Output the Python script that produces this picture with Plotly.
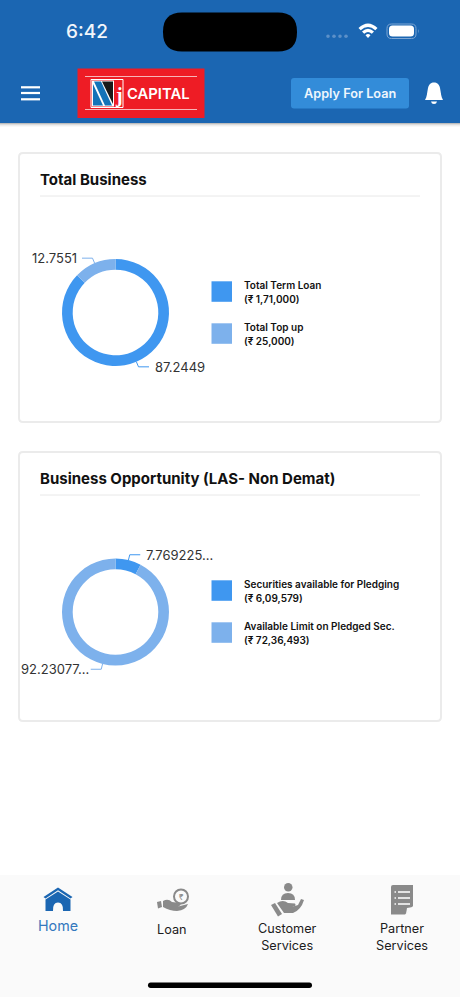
import numpy as np
import plotly.graph_objects as go

# --- chart data ---
total_names = ['Total Term Loan', 'Total Top up']
total_amounts = [171000, 25000]
total_amount_text = ['(₹ 1,71,000)', '(₹ 25,000)']
total_labels = ['87.2449', '12.7551']

opp_names = ['Securities available for Pledging', 'Available Limit on Pledged Sec.']
opp_amounts = [609579, 7236493]
opp_amount_text = ['(₹ 6,09,579)', '(₹ 72,36,493)']
opp_labels = ['7.769225...', '92.23077...']

nav_items = ['Home', 'Loan', 'Customer<br>Services', 'Partner<br>Services']

W, H = 460, 997
BLUE = '#3F97F0'
LIGHT = '#7DB1EC'
HEADER = '#1B66B2'
TITLE_FONT = 'Inter'
TEXT_FONT = 'Inter'

shapes = []
notes = []


def rect(x0, y0, x1, y1, fill, line=None, lw=0):
    shapes.append(dict(type='rect', xref='x', yref='y', x0=x0, y0=y0, x1=x1, y1=y1, fillcolor=fill,
                       line=dict(color=line or fill, width=lw), layer='below'))


def path(d, fill=None, line=None, lw=0):
    shapes.append(dict(type='path', xref='x', yref='y', path=d, fillcolor=fill or 'rgba(0,0,0,0)',
                       line=dict(color=line or 'rgba(0,0,0,0)', width=lw), layer='below'))


def circle(x0, y0, x1, y1, fill='rgba(0,0,0,0)', line=None, lw=0):
    shapes.append(dict(type='circle', xref='x', yref='y', x0=x0, x1=x1, y0=y0, y1=y1, fillcolor=fill,
                       line=dict(color=line or 'rgba(0,0,0,0)', width=lw), layer='below'))


def rrect(x0, y0, x1, y1, r):
    return (f'M{x0+r},{y0} L{x1-r},{y0} Q{x1},{y0} {x1},{y0+r} L{x1},{y1-r} Q{x1},{y1} {x1-r},{y1} '
            f'L{x0+r},{y1} Q{x0},{y1} {x0},{y1-r} L{x0},{y0+r} Q{x0},{y0} {x0+r},{y0} Z')


def text(x, y, s, size, color='#1c1c1c', anchor='left', font=TEXT_FONT, weight=400):
    notes.append(dict(xref='x', yref='y', x=x, y=y, text=s, showarrow=False, xanchor=anchor, yanchor='middle',
                      borderpad=0, borderwidth=0,
                      font=dict(family=font, size=size, color=color, weight=weight)))


def leaders(cx, cy, amounts, labels, left_gap=5):
    # elbow lines come from the slice mid angles
    fracs = np.array(amounts) / sum(amounts)
    start = 0
    for i, (frac, label) in enumerate(zip(fracs, labels)):
        mid = 2 * np.pi * (start + frac / 2)
        start += frac
        x0, y0 = cx + 53.5 * np.sin(mid), cy - 53.5 * np.cos(mid)
        x1, y1 = cx + 59 * np.sin(mid), cy - 59 * np.cos(mid)
        side = 1 if np.sin(mid) > 0 else -1
        x2 = x1 + side * 10.5
        color = BLUE if i == 0 else LIGHT
        path(f'M{x0},{y0} L{x1},{y1} L{x2},{y1}', line=color, lw=1)
        gap = 5.5 if side > 0 else left_gap
        text(x2 + side * gap, y1, label, 13, color='#333333',
             anchor='left' if side > 0 else 'right')


# --- header ---
rect(0, 0, W, 123, HEADER)
for i, c in enumerate(['#bdbdbd', '#dcdcdc', '#eeeeee', '#f8f8f8']):
    rect(0, 123 + i, W, 124 + i, c)
path(rrect(163, 12.5, 297, 51.5, 19), fill='#000000')
text(87, 31.5, '6:42', 19, color='#f2f6fb', anchor='center', weight=500)
for dx in [328, 334, 340, 346]:
    circle(dx - 1.8, 34.5, dx + 1.8, 38.1, fill='#5c90c8')
path('M358.5,28 Q368,19 377.5,28 L375.3,30.3 Q368,23.5 360.7,30.3 Z', fill='white')
path('M362,31.6 Q368,26 374,31.6 L371.8,33.8 Q368,30.4 364.2,33.8 Z', fill='white')
path('M365.5,35.2 Q368,33 370.5,35.2 L368,38 Z', fill='white')
path(rrect(387, 24, 416, 38.5, 4.5), line='#7da6d4', lw=1)
path(rrect(389, 25.5, 414, 36.5, 3.5), fill='white')
path('M418,29 Q419.5,31 418,33.5 Z', fill='#7da6d4')

for y in [87.3, 93, 99.3]:
    path(f'M21,{y} L40,{y}', line='white', lw=2.2)

# logo
rect(77.5, 68.5, 204.5, 118, '#EE1C25')
for y in [76.5, 109.5]:
    path(f'M85,{y} L197,{y}', line='#f7b5b8', lw=1)
rect(91, 79.5, 123, 107.5, '#EE1C25', line='white', lw=1)
rect(92, 80.5, 114, 106.5, 'white')
path('M93,84 L103,105.5 L93,105.5 Z', fill='#1473b8')
path('M94,81.5 L101,81.5 L112,105.5 L105,105.5 Z', fill='#1473b8')
path('M102,81.5 L113,81.5 L113,104 Z', fill='#1a1a1a')
text(118.5, 95, 'j', 20, color='white', anchor='center', font='Liberation Serif', weight=700)
text(127.3, 93.5, 'CAPITAL', 14.8, color='white', weight=600)

path(rrect(291, 78, 409, 108.5, 3), fill='#338CD9')
text(350, 93, 'Apply For Loan', 12.7, color='#eef6fd', anchor='center', weight=600)
path('M434,82.5 C437,82.5 439,84 440,88 C441,93 441,97 443,100 L425,100 '
     'C427,97 427,93 428,88 C429,84 431,82.5 434,82.5 Z', fill='white')
path('M431,101.5 L437,101.5 Q436.5,104 434,104 Q431.5,104 431,101.5 Z', fill='white')

# --- cards ---
for top, bottom, title, names, amt_text, amounts, labels in [
        (153, 422, 'Total Business', total_names, total_amount_text, total_amounts, total_labels),
        (452, 721, 'Business Opportunity (LAS- Non Demat)', opp_names, opp_amount_text, opp_amounts, opp_labels)]:
    path(rrect(19, top, 441, bottom, 4), fill='white', line='#EBEBEB', lw=2)
    text(40, top + 26, title, 15, color='#111111', font=TITLE_FONT, weight=700)
    path(f'M40,{top + 43} L420,{top + 43}', line='#E8E8E8', lw=1)
    for i, colour in enumerate([BLUE, LIGHT]):
        y = top + 128.3 + 42 * i
        rect(211.5, y, 232, y + 20.5, colour)
        text(244.3, y + 3.6, names[i], 10, color='#111111', weight=600)
        text(244.3, y + 17.6, amt_text[i], 10, color='#111111', weight=600)

leaders(115.5, 312.5, total_amounts, total_labels)
leaders(115.5, 612, opp_amounts, opp_labels, left_gap=2)

# --- bottom nav ---
rect(0, 875, W, H, '#FAFAFA')
path('M43.5,897 L58,887.5 L72.5,897 L70.5,898.5 L58,890.3 L45.5,898.5 Z', fill='#1B66B2')
path('M45.5,899.5 L58,891.5 L70.5,899.5 L70.5,911 L63,911 Q63.5,902.5 58,902.5 Q52.5,902.5 53,911 '
     'L45.5,911 Z', fill='#1B66B2')
# loan
G = '#8a8a8a'
circle(174, 889.5, 188, 903.5, line=G, lw=2)
text(181, 896.5, '₹', 8, color=G, anchor='center')
path('M157,902 L161,901 L162,907 L158,908.5 Z', fill=G)
path('M163,901 Q168,898 172,902 L180,903 Q182,905 178,906.5 L188,904 Q186,910 177,911 Q170,911 163,907 Z', fill=G)
# customer services
circle(284, 883, 292.5, 891.5, fill=G)
path('M281,900 Q281,893 288,893 Q295,893 295,900 Z', fill=G)
path('M271,905 L275,903 L282,914 L278,916.5 Z', fill=G)
path('M277,903 Q283,899 288,903 L295,903.5 Q297,906 292,907 L298,905 L301,899 L304,900 '
     'Q301,910 293,913 L284,913 Z', fill=G)
# partner services
path('M393,885 L413,885 L413,906 L405,914.5 L391,914.5 L391,887 Q391,885 393,885 Z', fill=G)
path('M406,914 L413,907 L407,908 Z', fill='#FAFAFA')
for y in [892, 898, 904]:
    path(f'M398,{y} L410,{y}', line='#FAFAFA', lw=1.6)
    path(f'M394.5,{y} L396,{y}', line='#FAFAFA', lw=1.6)

text(57.5, 925, nav_items[0], 14.3, color='#3478BE', anchor='center')
text(172.3, 929, nav_items[1], 12.7, anchor='center')
text(287, 936.5, nav_items[2], 12.7, anchor='center')
text(402, 936.5, nav_items[3], 12.7, anchor='center')
path(rrect(148, 982.5, 312, 988, 2.7), fill='#000000')


def donut(values, names, top_px):
    half = 53.5
    return go.Pie(values=values, labels=names, hole=0.8, sort=False, direction='clockwise', rotation=0,
                  textinfo='none', hoverinfo='skip', showlegend=False,
                  marker=dict(colors=[BLUE, LIGHT], line=dict(width=0)),
                  domain=dict(x=[(115.5 - half) / W, (115.5 + half) / W],
                              y=[1 - (top_px + half) / H, 1 - (top_px - half) / H]))


fig = go.Figure()
# invisible anchor so the pixel axes exist for the overlay shapes
fig.add_trace(go.Scatter(x=[0, W], y=[0, H], mode='markers', marker=dict(opacity=0), hoverinfo='skip',
                         showlegend=False))
fig.add_trace(donut(total_amounts, total_names, 312.5))
fig.add_trace(donut(opp_amounts, opp_names, 612))
fig.update_layout(width=W, height=H, margin=dict(l=0, r=0, t=0, b=0), paper_bgcolor='white',
                  plot_bgcolor='rgba(0,0,0,0)', shapes=shapes, annotations=notes,
                  xaxis=dict(range=[0, W], visible=False, fixedrange=True),
                  yaxis=dict(range=[H, 0], visible=False, fixedrange=True))
fig.write_html("out.html", config=dict(displayModeBar=False),
               post_script="document.body.style.margin='0';")
